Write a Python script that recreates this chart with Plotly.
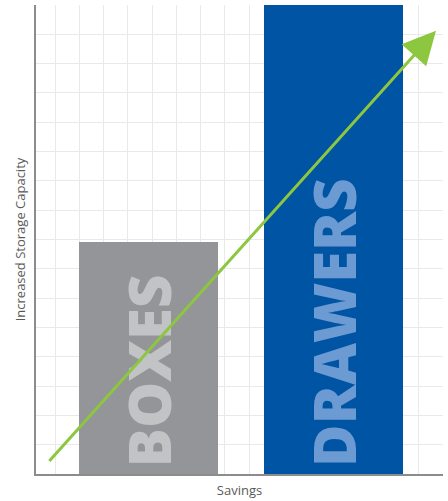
import plotly.graph_objects as go

# Data
categories = ["BOXES", "DRAWERS"]
bar_centers = [3.86, 11.48]          # position along the Savings axis
capacity = [7.92, 17.0]              # increased storage capacity
bar_colors = ["#939598", "#0054a4"]
label_colors = ["#c2c3c5", "#6b9bd2"]
trend_start = [-0.29, 0.39]
trend_end = [15.71, 15.12]

fig = go.Figure()
fig.add_trace(go.Bar(
    x=bar_centers, y=capacity, width=[5.73, 5.73],
    marker=dict(color=bar_colors, line=dict(width=0)),
    showlegend=False, hoverinfo="skip",
))

for cx, cat, col in zip(bar_centers, categories, label_colors):
    fig.add_annotation(
        x=cx, y=0.17, xref="x", yref="y", text=cat,
        textangle=-90, showarrow=False, xanchor="center", yanchor="bottom",
        font=dict(family="Open Sans", size=58, color=col, weight=800),
    )

fig.add_annotation(
    x=trend_end[0], y=trend_end[1], ax=trend_start[0], ay=trend_start[1],
    xref="x", yref="y", axref="x", ayref="y", text="",
    showarrow=True, arrowhead=2, arrowsize=2.2, arrowwidth=3,
    arrowcolor="#8dc63f",
)

fig.update_xaxes(
    range=[-0.784, 16], dtick=1, tick0=0, showticklabels=False, ticks="",
    showgrid=True, gridcolor="#e9e9e9", gridwidth=1, zeroline=False,
    showline=True, linecolor="#8c8c8c", linewidth=2, automargin=False,
    title=dict(text="Savings", font=dict(family="Open Sans", size=13, color="#5a5a5a"), standoff=11),
)
fig.update_yaxes(
    range=[0, 16], dtick=1, tick0=0, showticklabels=False, ticks="",
    showgrid=True, gridcolor="#e9e9e9", gridwidth=1, zeroline=False,
    showline=True, linecolor="#8c8c8c", linewidth=2, automargin=False,
    title=dict(text="Increased Storage Capacity", font=dict(family="Open Sans", size=13, color="#5a5a5a"), standoff=5),
)

fig.update_layout(
    width=448, height=501,
    margin=dict(l=36, r=5, t=5, b=27),
    plot_bgcolor="white", paper_bgcolor="white",
    bargap=0,
)

fig.write_html("out.html", config={"displayModeBar": False},
               post_script="document.body.style.margin='0';")
